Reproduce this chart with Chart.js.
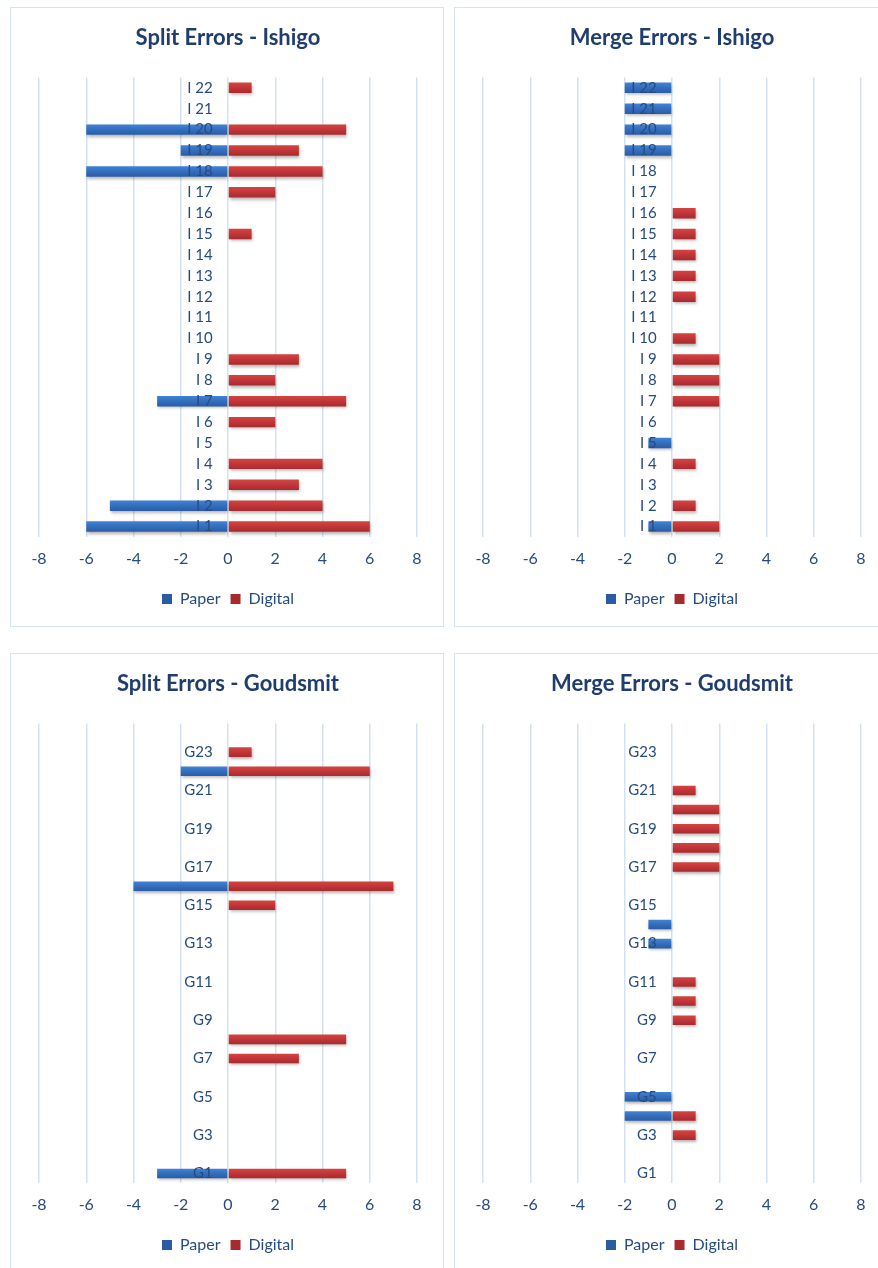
<!DOCTYPE html>
<html>
<head>
<meta charset="utf-8">
<script src="https://cdn.jsdelivr.net/npm/chart.js@4"></script>
<style>
  html, body { margin: 0; padding: 0; background: #ffffff; }
  body { width: 878px; height: 1268px; overflow: hidden; position: relative; }
  .panel {
    position: absolute;
    width: 432px;
    height: 618px;
    border: 1px solid #d8e3f1;
    background: #ffffff;
  }
  .panel canvas { display: block; }
</style>
</head>
<body>
<div class="panel" style="left:10px; top:7px;"><canvas id="splitIshigo" width="432" height="618"></canvas></div>
<div class="panel" style="left:454px; top:7px;"><canvas id="mergeIshigo" width="432" height="618"></canvas></div>
<div class="panel" style="left:10px; top:653px;"><canvas id="splitGoudsmit" width="432" height="618"></canvas></div>
<div class="panel" style="left:454px; top:653px;"><canvas id="mergeGoudsmit" width="432" height="618"></canvas></div>

<script>
// Image labels, bottom to top
const ishigoLabels = ['I 1', 'I 2', 'I 3', 'I 4', 'I 5', 'I 6', 'I 7', 'I 8', 'I 9', 'I 10', 'I 11',
                      'I 12', 'I 13', 'I 14', 'I 15', 'I 16', 'I 17', 'I 18', 'I 19', 'I 20', 'I 21', 'I 22'];
const goudsmitLabels = ['G1', 'G2', 'G3', 'G4', 'G5', 'G6', 'G7', 'G8', 'G9', 'G10', 'G11', 'G12',
                        'G13', 'G14', 'G15', 'G16', 'G17', 'G18', 'G19', 'G20', 'G21', 'G22', 'G23', 'G24'];

// Split errors, Ishigo (paper counted negative)
const splitIshigoPaper   = [-6, -5, 0, 0, 0, 0, -3, 0, 0, 0, 0, 0, 0, 0, 0, 0, 0, -6, -2, -6, 0, 0];
const splitIshigoDigital = [ 6,  4, 3, 4, 0, 2,  5, 2, 3, 0, 0, 0, 0, 0, 1, 0, 2,  4,  3,  5, 0, 1];

// Merge errors, Ishigo
const mergeIshigoPaper   = [-1, 0, 0, 0, -1, 0, 0, 0, 0, 0, 0, 0, 0, 0, 0, 0, 0, 0, -2, -2, -2, -2];
const mergeIshigoDigital = [ 2, 1, 0, 1,  0, 0, 2, 2, 2, 1, 0, 1, 1, 1, 1, 1, 0, 0,  0,  0,  0,  0];

// Split errors, Goudsmit
const splitGoudsmitPaper   = [-3, 0, 0, 0, 0, 0, 0, 0, 0, 0, 0, 0, 0, 0, 0, -4, 0, 0, 0, 0, 0, -2, 0, 0];
const splitGoudsmitDigital = [ 5, 0, 0, 0, 0, 0, 3, 5, 0, 0, 0, 0, 0, 0, 2,  7, 0, 0, 0, 0, 0,  6, 1, 0];

// Merge errors, Goudsmit
const mergeGoudsmitPaper   = [0, 0, 0, -2, -2, 0, 0, 0, 0, 0, 0, 0, -1, -1, 0, 0, 0, 0, 0, 0, 0, 0, 0, 0];
const mergeGoudsmitDigital = [0, 0, 1,  1,  0, 0, 0, 0, 1, 1, 1, 0,  0,  0, 0, 0, 2, 2, 2, 2, 1, 0, 0, 0];

// Value axis ticks
const valueMin = -8;
const valueMax = 8;
const valueStep = 2;

const FONT = 'Lato, "Open Sans", "Noto Sans", sans-serif';
const TEXT = '#264b80';
const TITLE = '#1f3d6e';
const GRID = '#d3e1f2';
const PAPER = ['#4282d6', '#3470c0', '#2a5ca4'];
const DIGITAL = ['#d4453f', '#c4363a', '#a62b2e'];
const BAR_SHARE = 0.5;

// Vertical shading across each bar, taken from the category scale
function barFill(shades) {
  return (c) => {
    const chart = c.chart;
    const yScale = chart.scales && chart.scales.y;
    if (c.type !== 'data' || !chart.chartArea || !yScale) return shades[1];
    const y = yScale.getPixelForValue(c.dataIndex);
    const half = Math.abs(yScale.getPixelForValue(1) - yScale.getPixelForValue(0)) * BAR_SHARE / 2;
    if (!isFinite(y) || !isFinite(half) || half <= 0) return shades[1];
    const g = chart.ctx.createLinearGradient(0, y - half, 0, y + half);
    g.addColorStop(0, shades[0]);
    g.addColorStop(0.45, shades[1]);
    g.addColorStop(1, shades[2]);
    return g;
  };
}

// Soft drop shadow under the bars
const barShadow = {
  id: 'barShadow',
  beforeDatasetsDraw(chart) {
    const ctx = chart.ctx;
    ctx.save();
    ctx.shadowColor = 'rgba(0, 0, 0, 0.3)';
    ctx.shadowBlur = 3;
    ctx.shadowOffsetX = 1;
    ctx.shadowOffsetY = 2;
  },
  afterDatasetsDraw(chart) {
    chart.ctx.restore();
  }
};

function makeChart(id, title, labels, paper, digital, everyOther) {
  return new Chart(document.getElementById(id), {
    type: 'bar',
    data: {
      labels: labels,
      datasets: [
        { label: 'Paper', data: paper, backgroundColor: barFill(PAPER), borderWidth: 0,
          barPercentage: BAR_SHARE, categoryPercentage: 1 },
        { label: 'Digital', data: digital, backgroundColor: barFill(DIGITAL), borderWidth: 0,
          barPercentage: BAR_SHARE, categoryPercentage: 1 }
      ]
    },
    options: {
      indexAxis: 'y',
      responsive: false,
      animation: false,
      layout: { padding: { left: 28, right: 26, top: 0, bottom: 9 } },
      scales: {
        x: {
          min: valueMin,
          max: valueMax,
          ticks: { stepSize: valueStep, color: TEXT, padding: 14,
                   font: { family: FONT, size: 16, lineHeight: 1 } },
          grid: { color: GRID, lineWidth: 1.5, drawTicks: false },
          border: { display: false }
        },
        y: {
          reverse: true,
          stacked: true,
          // category labels sit just left of the zero line
          position: { x: -0.65 },
          grid: { display: false, drawTicks: false },
          border: { display: false },
          ticks: {
            z: 1,
            autoSkip: false,
            color: TEXT,
            font: { family: FONT, size: 15 },
            callback: (value, index) => (everyOther && index % 2 === 1) ? '' : labels[index]
          }
        }
      },
      plugins: {
        title: {
          display: true,
          text: title,
          color: TITLE,
          font: { family: FONT, size: 22, weight: 'bold' },
          padding: { top: 17, bottom: 26 }
        },
        legend: {
          position: 'bottom',
          labels: {
            color: TEXT,
            boxWidth: 10,
            boxHeight: 10,
            padding: 10,
            font: { family: FONT, size: 16 }
          }
        },
        tooltip: { enabled: false }
      }
    },
    plugins: [barShadow]
  });
}

makeChart('splitIshigo', 'Split Errors - Ishigo', ishigoLabels, splitIshigoPaper, splitIshigoDigital, false);
makeChart('mergeIshigo', 'Merge Errors - Ishigo', ishigoLabels, mergeIshigoPaper, mergeIshigoDigital, false);
makeChart('splitGoudsmit', 'Split Errors - Goudsmit', goudsmitLabels, splitGoudsmitPaper, splitGoudsmitDigital, true);
makeChart('mergeGoudsmit', 'Merge Errors - Goudsmit', goudsmitLabels, mergeGoudsmitPaper, mergeGoudsmitDigital, true);
</script>
</body>
</html>
